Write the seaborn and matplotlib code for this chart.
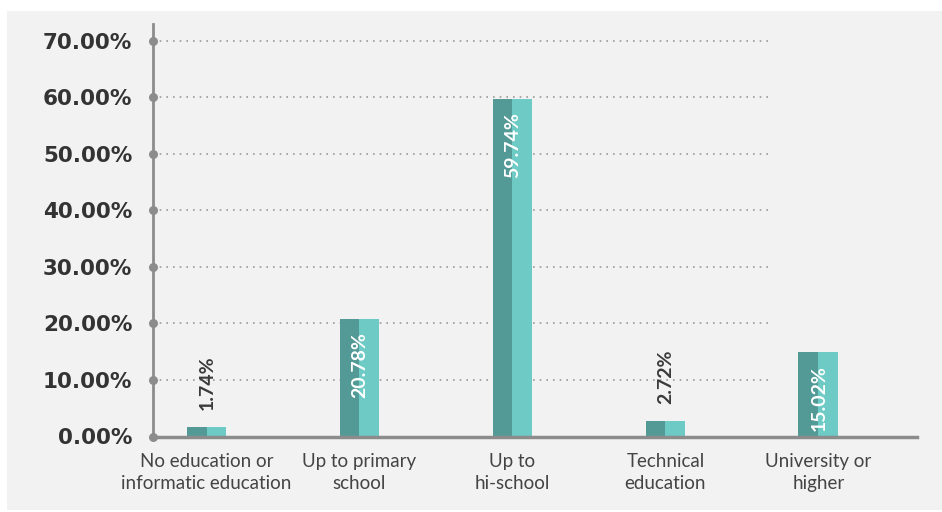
import matplotlib
matplotlib.use("Agg")
import matplotlib.pyplot as plt
import seaborn as sns
import pandas as pd
from matplotlib.patches import Rectangle

categories = ["No education or\ninformatic education", "Up to primary\nschool",
              "Up to\nhi-school", "Technical\neducation", "University or\nhigher"]
values = [1.74, 20.78, 59.74, 2.72, 15.02]
labels = ["1.74%", "20.78%", "59.74%", "2.72%", "15.02%"]
yticks = [0, 10, 20, 30, 40, 50, 60, 70]
ytick_labels = ["0.00%", "10.00%", "20.00%", "30.00%", "40.00%", "50.00%", "60.00%", "70.00%"]

DARK = "#539a97"
LIGHT = "#6dcac5"
BG = "#f2f2f2"
AXC = "#8c8c8c"

sns.set_theme(style="white")
plt.rcParams["font.family"] = ["Lato", "DejaVu Sans"]

fig = plt.figure(figsize=(9.42, 5.12), dpi=100)
fig.patch.set_facecolor("white")
fig.patches.append(Rectangle((7 / 942, 1 - 510 / 512), 1 - 7 / 942, (510 - 11) / 512,
                             transform=fig.transFigure, facecolor=BG, edgecolor="none", zorder=-10))
ax = fig.add_axes([153 / 942, 1 - 436.5 / 512, (917 - 153) / 942, (436.5 - 24) / 512])
ax.set_facecolor("none")

df = pd.DataFrame({
    "cat": categories * 2,
    "val": values * 2,
    "half": ["a"] * len(categories) + ["b"] * len(categories),
})
sns.barplot(data=df, x="cat", y="val", hue="half", order=categories, hue_order=["a", "b"],
            palette={"a": DARK, "b": LIGHT}, width=0.26, dodge=True, gap=0,
            legend=False, ax=ax, saturation=1, zorder=3, linewidth=0, edgecolor="none")

xmin, xmax = -0.35, 4.645
ax.set_xlim(xmin, xmax)
ax.set_ylim(0, 73)

# gridlines
for yv in yticks[1:]:
    ax.axhline(yv, xmin=0, xmax=0.8115, color="#9a9a9a", lw=1.2,
               linestyle=(0, (1, 3)), zorder=1)

# spines
for s in ["top", "right"]:
    ax.spines[s].set_visible(False)
ax.spines["left"].set_color(AXC)
ax.spines["left"].set_linewidth(2)
ax.spines["bottom"].set_color(AXC)
ax.spines["bottom"].set_linewidth(2.5)
ax.spines["left"].set_zorder(5)
ax.spines["bottom"].set_zorder(5)

# tick dots on y axis
ax.scatter([xmin] * len(yticks), yticks, s=30, color=AXC, clip_on=False, zorder=6)

ax.set_yticks(yticks)
ax.set_yticklabels(ytick_labels, fontsize=15.5, fontweight="bold", color="#333333",
                   family=["DejaVu Sans"])
ax.tick_params(axis="y", length=0, pad=15)
ax.tick_params(axis="x", length=0, pad=12)
ax.set_xticks(range(len(categories)))
ax.set_xticklabels(categories, fontsize=13.5, color="#444444", linespacing=1.35)
ax.set_xlabel("")
ax.set_ylabel("")

# value labels
for i, (v, lab) in enumerate(zip(values, labels)):
    if v < 5:
        ax.annotate(lab, (i, v), xytext=(0.5, 12), textcoords="offset points",
                    rotation=90, ha="center", va="bottom", fontsize=14,
                    fontweight="bold", color="#3a3a3a", zorder=7)
    else:
        ax.annotate(lab, (i, v), xytext=(0.5, -9.5), textcoords="offset points",
                    rotation=90, ha="center", va="top", fontsize=14,
                    fontweight="bold", color="white", zorder=7)

fig.savefig("out.png", dpi=100, facecolor=fig.get_facecolor())
